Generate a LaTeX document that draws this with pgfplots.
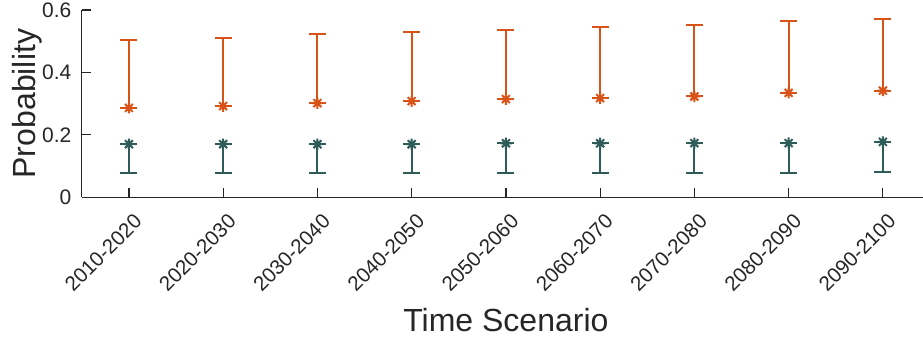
\documentclass[border=0pt]{standalone}
\usepackage{fontspec}
\setmainfont{Liberation Sans}
\usepackage{pgfplots}
\pgfplotsset{compat=1.18}
\usepackage{pgfplotstable}
\definecolor{oranger}{RGB}{217,83,25}
\definecolor{tealg}{RGB}{46,92,89}
\definecolor{axgray}{RGB}{38,38,38}

\pgfdeclareplotmark{mstar}{%
 \pgfpathmoveto{\pgfqpoint{-\pgfplotmarksize}{0pt}}\pgfpathlineto{\pgfqpoint{\pgfplotmarksize}{0pt}}%
 \pgfpathmoveto{\pgfqpoint{0pt}{-\pgfplotmarksize}}\pgfpathlineto{\pgfqpoint{0pt}{\pgfplotmarksize}}%
 \pgfpathmoveto{\pgfqpoint{-0.707\pgfplotmarksize}{-0.707\pgfplotmarksize}}\pgfpathlineto{\pgfqpoint{0.707\pgfplotmarksize}{0.707\pgfplotmarksize}}%
 \pgfpathmoveto{\pgfqpoint{-0.707\pgfplotmarksize}{0.707\pgfplotmarksize}}\pgfpathlineto{\pgfqpoint{0.707\pgfplotmarksize}{-0.707\pgfplotmarksize}}%
 \pgfusepathqstroke}

\pgfplotstableread{
x lo hi
1 0.2865 0.504
2 0.292 0.510
3 0.3016 0.522
4 0.308 0.528
5 0.3144 0.5346
6 0.3176 0.544
7 0.323 0.553
8 0.3346 0.5646
9 0.342 0.572
}\orangedata

\pgfplotstableread{
x lo hi
1 0.077 0.170
2 0.077 0.170
3 0.077 0.170
4 0.077 0.170
5 0.078 0.173
6 0.078 0.173
7 0.079 0.1735
8 0.079 0.1738
9 0.080 0.1775
}\tealdata

\begin{document}
\begin{tikzpicture}
\begin{axis}[
  name=ax,
  scale only axis,
  width=424.1pt, height=93.65pt,
  xmin=0.5, xmax=9.5, ymin=0, ymax=0.6,
  axis lines*=left,
  axis line style={axgray, line width=0.6pt},
  tick align=inside,
  major tick length=4.5pt,
  tick style={axgray, line width=0.6pt},
  xtick={1,2,3,4,5,6,7,8,9},
  xticklabels={2010-2020,2020-2030,2030-2040,2040-2050,2050-2060,2060-2070,2070-2080,2080-2090,2090-2100},
  ytick={0,0.2,0.4,0.6},
  yticklabels={0,0.2,0.4,0.6},
  x tick label style={font=\fontsize{10.3}{12}\selectfont, text=axgray, inner sep=0pt, xshift=2pt, yshift=-7.4pt, rotate=45, anchor=north east},
  y tick label style={font=\fontsize{10.5}{12}\selectfont, text=axgray, inner sep=0pt, anchor=east, xshift=-5pt},
  xlabel={Time Scenario},
  ylabel={Probability},
  xlabel style={at={(axis description cs:0.5,-0.7176)}, anchor=base, inner sep=0pt, font=\fontsize{16}{19}\selectfont, text=axgray},
  ylabel style={at={(axis description cs:-0.0458,0.5)}, anchor=south, rotate=0, inner sep=0pt, font=\fontsize{16}{19}\selectfont, text=axgray},
  clip=false,
]
\addplot[oranger, line width=1pt, mark=mstar, mark size=2.8pt, only marks,
  error bars/.cd, y dir=both, y explicit, error mark=|,
  error mark options={oranger, line width=1pt, mark size=4.25pt},
  error bar style={oranger, line width=1pt}]
  table[x=x, y=lo, y error plus expr=\thisrow{hi}-\thisrow{lo}, y error minus expr=0] {\orangedata};
\addplot[tealg, line width=1pt, mark=mstar, mark size=2.8pt, only marks,
  error bars/.cd, y dir=both, y explicit, error mark=|,
  error mark options={tealg, line width=1pt, mark size=4.25pt},
  error bar style={tealg, line width=1pt}]
  table[x=x, y=hi, y error plus expr=0, y error minus expr=\thisrow{hi}-\thisrow{lo}] {\tealdata};
\end{axis}
\pgfresetboundingbox
\path (ax.south west) ++(-40.9pt,-70.85pt) rectangle ++(461.5pt,169.5pt);
\end{tikzpicture}
\end{document}
